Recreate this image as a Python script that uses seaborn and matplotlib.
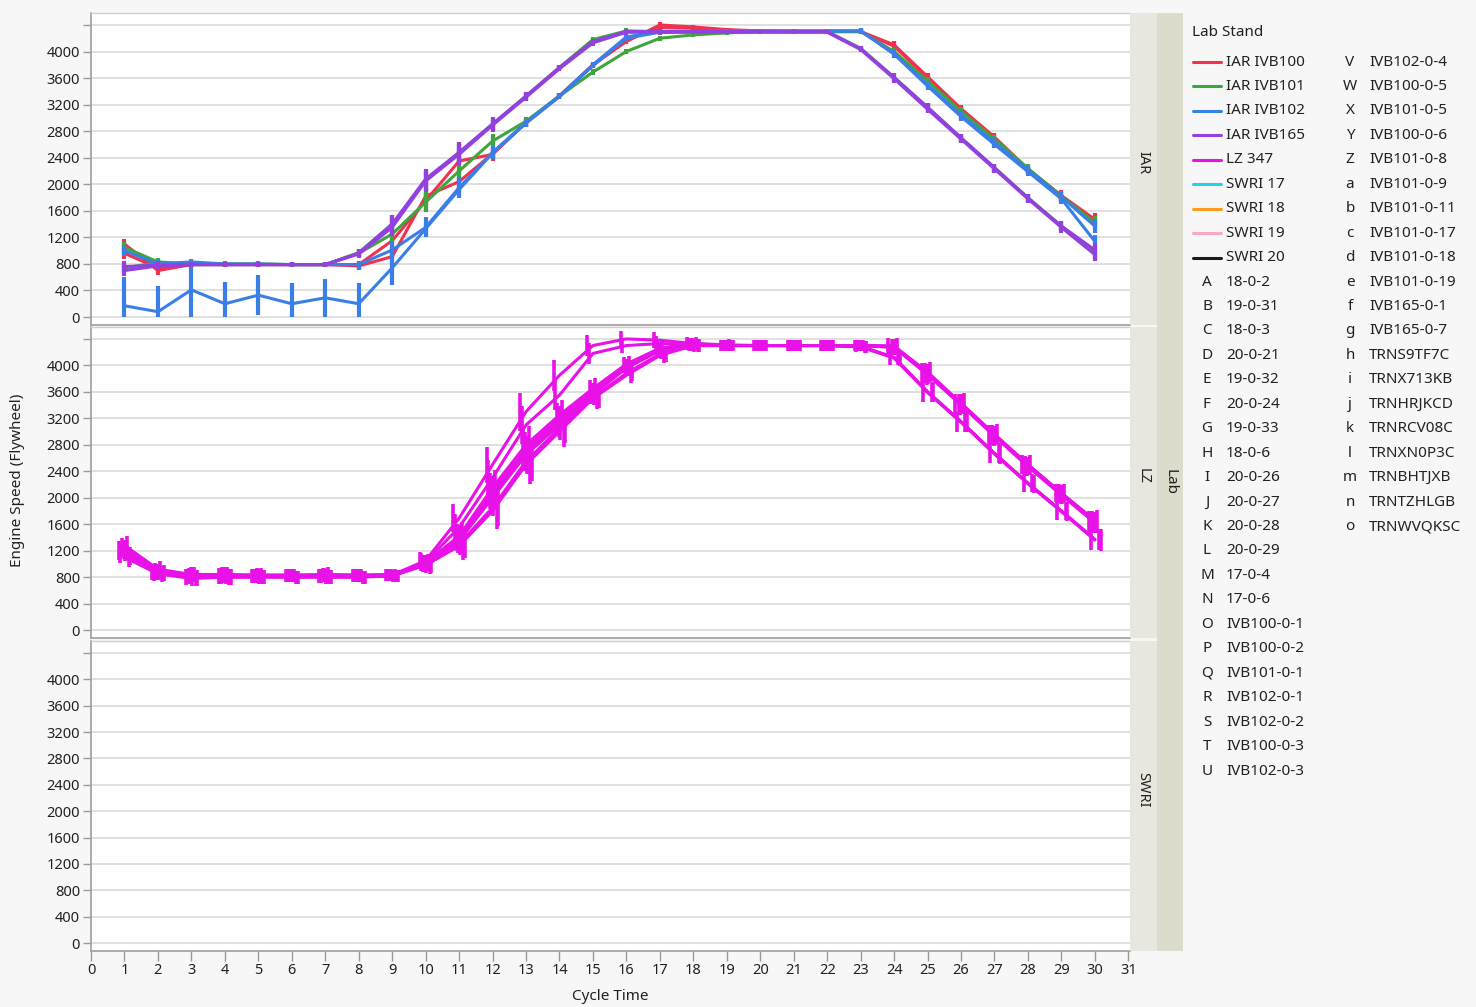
import numpy as np
import pandas as pd
import matplotlib
matplotlib.use("Agg")
import matplotlib.pyplot as plt
from matplotlib.patches import Rectangle
from matplotlib.lines import Line2D
import seaborn as sns

# ---------------------------------------------------------------- data
cycle = list(range(1, 31))

# IAR stands (one list per test)
ivb100_0_1 = [1100, 700, 790, 790, 790, 790, 790, 770, 910, 1820, 2040, 2460, 2930, 3330, 3800,
              4150, 4400, 4370, 4330, 4310, 4300, 4300, 4300, 4100, 3620, 3140, 2710, 2230, 1830, 1470]
ivb100_0_3 = [960, 740, 790, 790, 790, 790, 790, 790, 1150, 1750, 2350, 2450, 2930, 3330, 3790,
              4180, 4360, 4350, 4320, 4300, 4300, 4300, 4300, 4080, 3600, 3120, 2690, 2220, 1820, 1460]
ivb101_0_1 = [1050, 830, 800, 800, 800, 790, 790, 970, 1400, 2050, 2480, 2900, 3330, 3760, 4180,
              4310, 4300, 4300, 4300, 4300, 4300, 4300, 4050, 3610, 3160, 2700, 2250, 1800, 1370, 980]
ivb101_0_5 = [740, 820, 790, 790, 790, 790, 790, 960, 1250, 1730, 2200, 2650, 2950, 3330, 3690,
              4000, 4200, 4250, 4280, 4300, 4300, 4300, 4300, 4000, 3560, 3100, 2680, 2240, 1820, 1420]
ivb102_0_1 = [1000, 800, 830, 800, 800, 790, 790, 790, 1010, 1350, 1950, 2480, 2930, 3330, 3800,
              4220, 4300, 4300, 4310, 4310, 4310, 4310, 4310, 3970, 3500, 3045, 2630, 2220, 1810, 1370]
ivb102_0_2 = [170, 80, 410, 200, 330, 200, 290, 200, 740, 1330, 1920, 2470, 2920, 3320, 3790,
              4200, 4290, 4300, 4310, 4310, 4310, 4310, 4310, 3960, 3480, 3020, 2600, 2190, 1780, 1140]
ivb165_0_1 = [760, 780, 790, 790, 790, 790, 790, 960, 1400, 2080, 2480, 2910, 3330, 3760, 4150,
              4300, 4300, 4300, 4300, 4300, 4300, 4300, 4040, 3610, 3160, 2700, 2250, 1790, 1370, 1010]
ivb165_0_7 = [700, 770, 790, 790, 790, 790, 790, 950, 1350, 2050, 2450, 2890, 3310, 3740, 4130,
              4290, 4290, 4290, 4290, 4290, 4290, 4290, 4030, 3590, 3130, 2680, 2230, 1780, 1350, 940]

# half-length of the range bars
iar_err = [80, 60, 40, 40, 40, 40, 40, 60, 130, 150, 160, 100, 60, 40, 40,
           40, 40, 30, 30, 30, 30, 30, 40, 60, 60, 60, 60, 60, 80, 100]
ivb102_0_2_err = [430, 380, 410, 330, 300, 320, 290, 320, 250, 100, 80, 60, 40, 40, 40,
                  40, 40, 30, 30, 30, 30, 30, 40, 60, 60, 60, 60, 60, 80, 100]

# LZ stand
trns9tf7c = [1200, 880, 800, 820, 820, 820, 820, 820, 830, 1050, 1690, 2500, 3300, 3850, 4300,
             4400, 4380, 4330, 4300, 4300, 4300, 4300, 4300, 4290, 3880, 3420, 2950, 2500, 2070, 1640]
trnx713kb = [1150, 860, 810, 820, 820, 820, 820, 820, 830, 1030, 1550, 2300, 3100, 3550, 4180,
             4300, 4330, 4320, 4300, 4300, 4300, 4300, 4290, 4120, 3600, 3150, 2670, 2220, 1800, 1370]
trnhrjkcd = [1250, 900, 820, 830, 820, 820, 830, 830, 830, 1000, 1400, 2100, 2750, 3200, 3620,
             4000, 4250, 4320, 4300, 4300, 4300, 4300, 4300, 4280, 3880, 3420, 2950, 2490, 2060, 1640]
trnrcv08c = [1220, 880, 830, 830, 830, 830, 830, 820, 830, 1010, 1380, 2050, 2700, 3150, 3580,
             3980, 4230, 4310, 4300, 4300, 4300, 4300, 4300, 4270, 3860, 3400, 2930, 2470, 2040, 1620]
trnxn0p3c = [1180, 870, 790, 810, 810, 820, 810, 820, 820, 990, 1350, 2000, 2650, 3100, 3560,
             3960, 4220, 4300, 4300, 4300, 4300, 4300, 4300, 4280, 3870, 3410, 2940, 2480, 2050, 1630]
trnbhtjxb = [1280, 920, 840, 840, 830, 830, 840, 830, 840, 1020, 1420, 2150, 2800, 3250, 3650,
             4020, 4260, 4330, 4310, 4300, 4300, 4300, 4300, 4290, 3900, 3430, 2960, 2500, 2070, 1660]
trntzhlgb = [1100, 850, 780, 800, 800, 800, 800, 800, 820, 980, 1270, 1800, 2500, 3000, 3500,
             3850, 4150, 4300, 4300, 4300, 4300, 4300, 4280, 4120, 3600, 3150, 2670, 2220, 1800, 1370]
trnwvqksc = [1120, 860, 790, 800, 800, 800, 800, 800, 820, 990, 1300, 1850, 2550, 3050, 3520,
             3880, 4170, 4300, 4300, 4300, 4300, 4300, 4280, 4110, 3590, 3140, 2660, 2210, 1790, 1360]

lz_err = [140, 120, 120, 120, 110, 100, 110, 100, 90, 130, 210, 270, 290, 230, 160,
          120, 120, 100, 90, 90, 90, 90, 90, 120, 150, 150, 150, 140, 140, 160]

labs = ["IAR", "LZ", "SWRI"]

stands = ["IAR IVB100", "IAR IVB101", "IAR IVB102", "IAR IVB165", "LZ 347",
          "SWRI 17", "SWRI 18", "SWRI 19", "SWRI 20"]
stand_colors = ["#f0314f", "#3fa63f", "#3a7ee8", "#9440e0", "#e812e8",
                "#27d0e8", "#ff9c1e", "#f6a8c6", "#1a1a1a"]

test_codes = list("ABCDEFGHIJKLMNOPQRSTUVWXYZabcdefghijklmno")
test_names = ["18-0-2", "19-0-31", "18-0-3", "20-0-21", "19-0-32", "20-0-24", "19-0-33",
              "18-0-6", "20-0-26", "20-0-27", "20-0-28", "20-0-29", "17-0-4", "17-0-6",
              "IVB100-0-1", "IVB100-0-2", "IVB101-0-1", "IVB102-0-1", "IVB102-0-2",
              "IVB100-0-3", "IVB102-0-3", "IVB102-0-4", "IVB100-0-5", "IVB101-0-5",
              "IVB100-0-6", "IVB101-0-8", "IVB101-0-9", "IVB101-0-11", "IVB101-0-17",
              "IVB101-0-18", "IVB101-0-19", "IVB165-0-1", "IVB165-0-7", "TRNS9TF7C",
              "TRNX713KB", "TRNHRJKCD", "TRNRCV08C", "TRNXN0P3C", "TRNBHTJXB",
              "TRNTZHLGB", "TRNWVQKSC"]

# --------------------------------------------------------- build table
runs = [
    ("IAR", "IAR IVB100", "IVB100-0-1", ivb100_0_1, iar_err),
    ("IAR", "IAR IVB100", "IVB100-0-3", ivb100_0_3, iar_err),
    ("IAR", "IAR IVB101", "IVB101-0-1", ivb101_0_1, iar_err),
    ("IAR", "IAR IVB101", "IVB101-0-5", ivb101_0_5, iar_err),
    ("IAR", "IAR IVB102", "IVB102-0-1", ivb102_0_1, iar_err),
    ("IAR", "IAR IVB102", "IVB102-0-2", ivb102_0_2, ivb102_0_2_err),
    ("IAR", "IAR IVB165", "IVB165-0-1", ivb165_0_1, iar_err),
    ("IAR", "IAR IVB165", "IVB165-0-7", ivb165_0_7, iar_err),
    ("LZ", "LZ 347", "TRNS9TF7C", trns9tf7c, lz_err),
    ("LZ", "LZ 347", "TRNX713KB", trnx713kb, lz_err),
    ("LZ", "LZ 347", "TRNHRJKCD", trnhrjkcd, lz_err),
    ("LZ", "LZ 347", "TRNRCV08C", trnrcv08c, lz_err),
    ("LZ", "LZ 347", "TRNXN0P3C", trnxn0p3c, lz_err),
    ("LZ", "LZ 347", "TRNBHTJXB", trnbhtjxb, lz_err),
    ("LZ", "LZ 347", "TRNTZHLGB", trntzhlgb, lz_err),
    ("LZ", "LZ 347", "TRNWVQKSC", trnwvqksc, lz_err),
]
df = pd.concat([
    pd.DataFrame({"Lab": lab, "Stand": stand, "Test": test, "Cycle Time": cycle,
                  "Speed": vals, "Err": err})
    for lab, stand, test, vals, err in runs
], ignore_index=True)
df["Low"] = (df["Speed"] - df["Err"]).clip(lower=0)
df["High"] = df["Speed"] + df["Err"]

palette = dict(zip(stands, stand_colors))

# --------------------------------------------------------------- style
sns.set_theme(style="white")
plt.rcParams["font.family"] = ["Noto Sans", "DejaVu Sans"]
plt.rcParams["text.color"] = "#222222"
plt.rcParams["axes.labelcolor"] = "#222222"

W_PX, H_PX = 1476, 1007
fig = plt.figure(figsize=(W_PX / 100, H_PX / 100), dpi=100, facecolor="#f7f7f7")


def fx(px):
    return px / W_PX


def fy(py):
    return 1 - py / H_PX


plot_l, plot_r = 91, 1130
panel_edges = [(13, 325), (327, 638), (641, 951)]
axes = []
for top, bot in panel_edges:
    ax = fig.add_axes([fx(plot_l), fy(bot), fx(plot_r) - fx(plot_l), (bot - top) / H_PX])
    axes.append(ax)

grid_vals = list(range(0, 4401, 400))
for i, (ax, lab) in enumerate(zip(axes, labs)):
    ax.set_facecolor("white")
    sub = df[df["Lab"] == lab]
    if len(sub):
        lw = 2.2 if lab == "IAR" else 2.2
        sns.lineplot(data=sub, x="Cycle Time", y="Speed", hue="Stand", units="Test",
                     estimator=None, palette=palette, legend=False, ax=ax,
                     linewidth=lw, sort=False, zorder=3)
        tests = list(dict.fromkeys(sub["Test"]))
        for k, test in enumerate(tests):
            t = sub[sub["Test"] == test]
            shift = 0.0 if lab == "IAR" else (k - (len(tests) - 1) / 2) * 0.05
            ax.vlines(t["Cycle Time"] + shift, t["Low"], t["High"],
                      colors=palette[t["Stand"].iloc[0]],
                      linewidth=3.0 if lab == "IAR" else 2.6, zorder=3)
    ax.set_xlim(0, 31.05)
    ax.set_ylim(-120, 4580)
    ax.set_yticks(grid_vals)
    ax.set_yticklabels([str(v) if v <= 4000 else "" for v in grid_vals], fontsize=10.5)
    ax.grid(axis="y", color="#dddddd", linewidth=1.3, zorder=0)
    ax.grid(axis="x", visible=False)
    ax.set_axisbelow(True)
    ax.set_xlabel("")
    ax.set_ylabel("")
    ax.tick_params(axis="y", direction="out", length=6, width=1, color="#9a9a9a",
                   pad=2, left=True, labelcolor="#222222")
    ax.set_xticks(range(0, 32))
    if i < 2:
        ax.tick_params(axis="x", bottom=False, labelbottom=False)
    else:
        ax.tick_params(axis="x", direction="out", length=7, width=1, color="#9a9a9a",
                       bottom=True, labelsize=10.5, pad=2, labelcolor="#222222")
    for side in ["left", "bottom"]:
        ax.spines[side].set_color("#a5a5a5")
        ax.spines[side].set_linewidth(1.3)
    ax.spines["top"].set_color("#cfcfcf")
    ax.spines["top"].set_linewidth(1.0)
    ax.spines["right"].set_visible(False)

# axis titles
fig.text(fx(18), fy(480), "Engine Speed (Flywheel)", rotation=90, ha="center", va="center",
         fontsize=11)
fig.text(fx(610), fy(996), "Cycle Time", ha="center", va="center", fontsize=11)

# facet strips on the right
strip_top, strip_bot = 13, 951
fig.add_artist(Rectangle((fx(1157), fy(strip_bot)), fx(1183) - fx(1157),
                         (strip_bot - strip_top) / H_PX, transform=fig.transFigure,
                         facecolor="#dcdccd", edgecolor="none"))
for (top, bot), lab in zip(panel_edges, labs):
    fig.add_artist(Rectangle((fx(1130), fy(bot)), fx(1157) - fx(1130), (bot - top) / H_PX,
                             transform=fig.transFigure, facecolor="#e7e7df",
                             edgecolor="none"))
    fig.text(fx(1143), fy((top + bot) / 2 - 6), lab, rotation=-90, ha="center", va="center",
             fontsize=10.5)
fig.text(fx(1170), fy(482), "Lab", rotation=-90, ha="center", va="center", fontsize=11,
         fontweight="bold")

# legend
fig.text(fx(1192), fy(33), "Lab Stand", ha="left", va="center", fontsize=11)
row0, row_h = 62, 24.45
for r, (stand, col) in enumerate(zip(stands, stand_colors)):
    yy = fy(row0 + r * row_h)
    fig.add_artist(Line2D([fx(1193), fx(1221)], [yy, yy], transform=fig.transFigure,
                          color=col, linewidth=2.2))
    fig.text(fx(1226), yy, stand, ha="left", va="center", fontsize=11)
col1_n = 30 - len(stands)
for j, (code, name) in enumerate(zip(test_codes, test_names)):
    if j < col1_n:
        yy = fy(row0 + (len(stands) + j) * row_h)
        cx, tx = 1207, 1226
    else:
        yy = fy(row0 + (j - col1_n) * row_h)
        cx, tx = 1350, 1369
    fig.text(fx(cx), yy, code, ha="center", va="center", fontsize=11)
    fig.text(fx(tx), yy, name, ha="left", va="center", fontsize=11)

fig.savefig("out.png", dpi=100, facecolor=fig.get_facecolor())
